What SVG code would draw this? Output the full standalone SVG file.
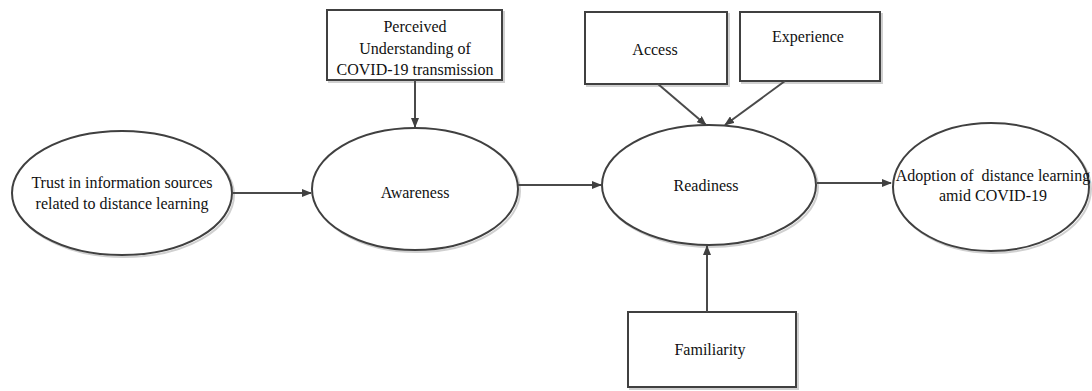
<svg xmlns="http://www.w3.org/2000/svg" width="1092" height="391" viewBox="0 0 1092 391">
<defs>
<marker id="arr" markerWidth="10" markerHeight="8" refX="9" refY="4" orient="auto" markerUnits="userSpaceOnUse">
<path d="M0,0 L10,4 L0,8 Z" fill="#404040"/>
</marker>
</defs>
<style>
.shape{fill:#fff;stroke:#404040;stroke-width:2}
.shadow{fill:none;stroke:#d0d0d0;stroke-width:2}
.txt{font-size:16px;fill:#111;text-anchor:middle}
.conn{stroke:#4a4a4a;stroke-width:2;fill:none;marker-end:url(#arr)}
</style>
<rect width="1092" height="391" fill="#fff"/>
<g font-family="Liberation Serif, Times New Roman, DejaVu Serif, serif">
<g id="trust">
<ellipse class="shadow" cx="124" cy="195" rx="110" ry="62"/>
<ellipse class="shape" cx="122" cy="193" rx="110" ry="62"/>
<text class="txt" x="122" y="188">Trust in information sources</text>
<text class="txt" x="122" y="209">related to distance learning</text>
</g>
<g id="awareness">
<ellipse class="shadow" cx="417" cy="191" rx="103" ry="61"/>
<ellipse class="shape" cx="415" cy="189" rx="103" ry="61"/>
<text class="txt" x="415" y="198">Awareness</text>
</g>
<g id="perceived">
<rect class="shadow" x="329" y="12" width="175" height="70"/>
<rect class="shape" x="327" y="10" width="175" height="70"/>
<text class="txt" x="415" y="32">Perceived</text>
<text class="txt" x="415" y="54">Understanding of</text>
<text class="txt" x="415" y="75">COVID-19 transmission</text>
</g>
<g id="access">
<rect class="shadow" x="587" y="14" width="142" height="72"/>
<rect class="shape" x="585" y="12" width="142" height="72"/>
<text class="txt" x="655" y="55">Access</text>
</g>
<g id="experience">
<rect class="shadow" x="742" y="14" width="140" height="69"/>
<rect class="shape" x="740" y="12" width="140" height="69"/>
<text class="txt" x="808" y="42">Experience</text>
</g>
<g id="readiness">
<ellipse class="shadow" cx="711" cy="187" rx="107" ry="60"/>
<ellipse class="shape" cx="709" cy="185" rx="107" ry="60"/>
<text class="txt" x="706" y="191">Readiness</text>
</g>
<g id="familiarity">
<rect class="shadow" x="630" y="314" width="168" height="75"/>
<rect class="shape" x="628" y="312" width="168" height="75"/>
<text class="txt" x="710" y="355">Familiarity</text>
</g>
<g id="adoption">
<ellipse class="shadow" cx="993" cy="189" rx="98" ry="64"/>
<ellipse class="shape" cx="991" cy="187" rx="98" ry="64"/>
<text class="txt" x="993" y="181" xml:space="preserve">Adoption of  distance learning</text>
<text class="txt" x="993" y="201">amid COVID-19</text>
</g>
</g>
<g id="connectors">
<line class="conn" x1="233" y1="193" x2="311" y2="193"/>
<line class="conn" x1="415" y1="80" x2="415" y2="127"/>
<line class="conn" x1="518" y1="185" x2="601" y2="185"/>
<line class="conn" x1="658" y1="84" x2="706" y2="125"/>
<line class="conn" x1="785" y1="81" x2="725" y2="125"/>
<line class="conn" x1="707" y1="312" x2="707" y2="246"/>
<line class="conn" x1="817" y1="183" x2="891" y2="183"/>
</g>
</svg>
